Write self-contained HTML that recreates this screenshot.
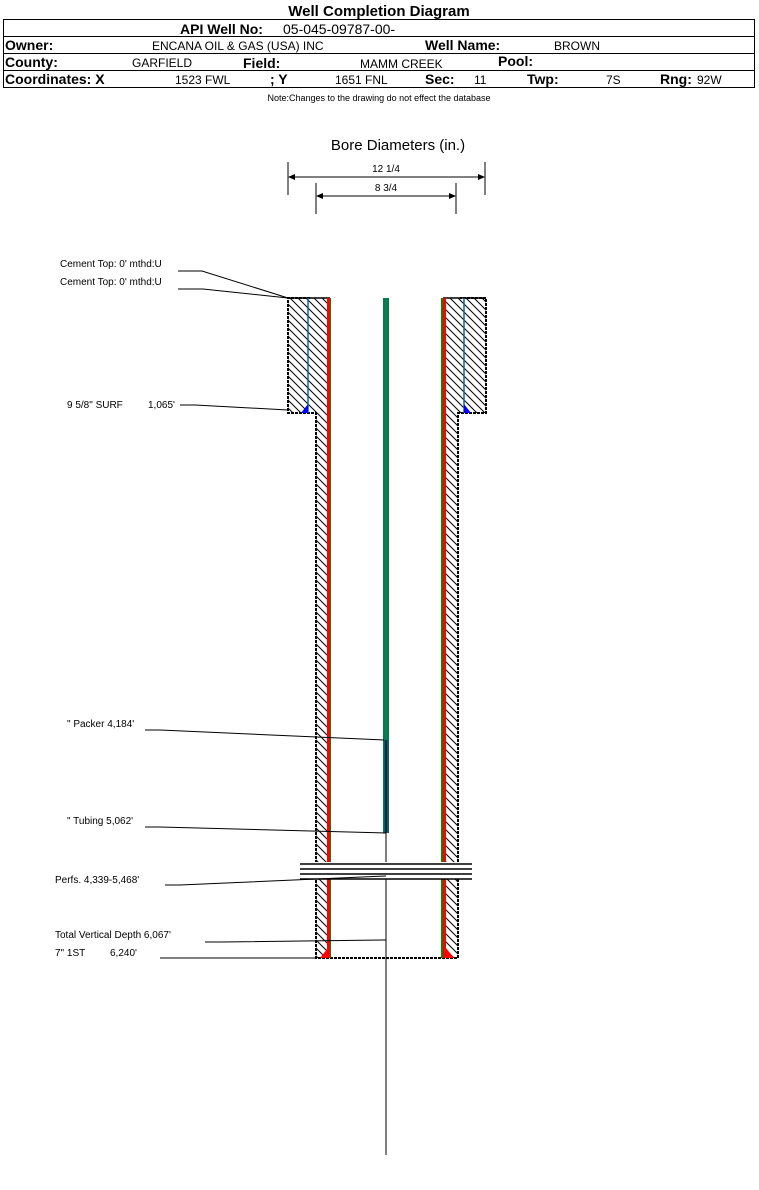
<!DOCTYPE html>
<html><head><meta charset="utf-8"><style>
body{margin:0;background:#fff;width:759px;height:1185px;overflow:hidden;font-family:"Liberation Sans",Arial,sans-serif}
</style></head><body>
<svg width="759" height="1185" viewBox="0 0 759 1185" xmlns="http://www.w3.org/2000/svg" font-family="Liberation Sans, Arial, sans-serif">
<defs>
<pattern id="h" width="8" height="8" patternUnits="userSpaceOnUse">
<path d="M-1,-1 L9,9 M-9,-1 L1,9 M7,-1 L17,9" stroke="#000" stroke-width="1"/>
</pattern>
</defs>
<text x="379" y="16" text-anchor="middle" font-weight="bold" font-size="15">Well Completion Diagram</text>
<rect x="3.5" y="19.5" width="751" height="68" fill="none" stroke="#000"/>
<line x1="3" y1="36.5" x2="755" y2="36.5" stroke="#000"/>
<line x1="3" y1="53.5" x2="755" y2="53.5" stroke="#000"/>
<line x1="3" y1="70.5" x2="755" y2="70.5" stroke="#000"/>
<g font-size="14" font-weight="bold">
<text x="180" y="34">API Well No:</text>
<text x="5" y="50">Owner:</text>
<text x="425" y="50">Well Name:</text>
<text x="5" y="67">County:</text>
<text x="243" y="68">Field:</text>
<text x="498" y="66">Pool:</text>
<text x="5" y="84">Coordinates: X</text>
<text x="270" y="84">; Y</text>
<text x="425" y="84">Sec:</text>
<text x="527" y="84">Twp:</text>
<text x="660" y="84">Rng:</text>
</g>
<text x="283" y="34" font-size="14">05-045-09787-00-</text>
<g font-size="12">
<text x="152" y="50">ENCANA OIL &amp; GAS (USA) INC</text>
<text x="554" y="50">BROWN</text>
<text x="132" y="67">GARFIELD</text>
<text x="360" y="68">MAMM CREEK</text>
<text x="175" y="84">1523 FWL</text>
<text x="335" y="84">1651 FNL</text>
<text x="474" y="84">11</text>
<text x="606" y="84">7S</text>
<text x="697" y="84">92W</text>
</g>
<text x="379" y="101" text-anchor="middle" font-size="9">Note:Changes to the drawing do not effect the database</text>
<text x="398" y="150" text-anchor="middle" font-size="15">Bore Diameters (in.)</text>
<g stroke="#000" stroke-width="1">
<line x1="288" y1="162" x2="288" y2="195"/><line x1="485" y1="162" x2="485" y2="195"/>
<line x1="292" y1="177" x2="481" y2="177"/>
<line x1="316" y1="183" x2="316" y2="214"/><line x1="456" y1="183" x2="456" y2="214"/>
<line x1="320" y1="196" x2="452" y2="196"/>
</g>
<path d="M288,177 l7,-3 v6z M485,177 l-7,-3 v6z M316,196 l7,-3 v6z M456,196 l-7,-3 v6z" fill="#000"/>
<text x="386" y="172" text-anchor="middle" font-size="10">12 1/4</text>
<text x="386" y="191" text-anchor="middle" font-size="10">8 3/4</text>
<path d="M288,298 H328 V958 H316 V413 H288Z" fill="url(#h)"/>
<path d="M443,298 H486 V413 H458 V958 H443Z" fill="url(#h)"/>
<rect x="328" y="298" width="115" height="660" fill="#fff"/>
<g fill="none" stroke="#000" stroke-width="2" stroke-dasharray="3,1">
<path d="M310,298 H288 V413 H316 V958 H458 V413 H486 V298 H460"/>
</g>
<line x1="288" y1="298" x2="330" y2="298" stroke="#000" stroke-width="1.5"/>
<line x1="443" y1="298" x2="486" y2="298" stroke="#000" stroke-width="1.5"/>
<line x1="308" y1="298" x2="308" y2="413" stroke="#1060a0" stroke-width="1.5"/>
<line x1="464" y1="298" x2="464" y2="413" stroke="#1060a0" stroke-width="1.5"/>
<path d="M301,413 L308,404 V413Z M464,404 L471,413 H464Z" fill="#00f"/>
<rect x="327" y="298" width="3" height="660" fill="#f00"/>
<rect x="330" y="298" width="1" height="660" fill="#080"/>
<rect x="443" y="298" width="3" height="660" fill="#f00"/>
<rect x="441" y="298" width="2" height="660" fill="#080"/>
<path d="M320,958 L328,948 V958Z M446,948 L454,958 H446Z" fill="#f00"/>
<rect x="383" y="298" width="6" height="535" fill="#0a7a40"/>
<rect x="385" y="298" width="2" height="535" fill="#0a7a6a"/>
<rect x="384" y="740" width="5" height="93" fill="#105a70"/>
<line x1="386" y1="740" x2="386" y2="1155" stroke="#000" stroke-width="1"/>
<rect x="300" y="862" width="172" height="17" fill="#fff"/>
<g stroke="#000" stroke-width="1.5">
<line x1="300" y1="864" x2="472" y2="864"/><line x1="300" y1="869" x2="472" y2="869"/>
<line x1="300" y1="874" x2="472" y2="874"/><line x1="300" y1="879" x2="472" y2="879"/>
</g>
<g fill="none" stroke="#000" stroke-width="1">
<path d="M178,271 H202 L288,298"/>
<path d="M178,289 H203 L288,298"/>
<path d="M180,405 H195 L288,410"/>
<path d="M145,730 H160 L384,740"/>
<path d="M145,827 H160 L386,833"/>
<path d="M165,885 H180 L386,876"/>
<path d="M205,942 H220 L386,940"/>
<path d="M160,958 H180 L316,958"/>
</g>
<g font-size="10">
<text x="60" y="267">Cement Top: 0' mthd:U</text>
<text x="60" y="285">Cement Top: 0' mthd:U</text>
<text x="67" y="408">9 5/8" SURF</text>
<text x="148" y="408">1,065'</text>
<text x="67" y="727">" Packer 4,184'</text>
<text x="67" y="824">" Tubing 5,062'</text>
<text x="55" y="883">Perfs. 4,339-5,468'</text>
<text x="55" y="938">Total Vertical Depth 6,067'</text>
<text x="55" y="956">7" 1ST</text>
<text x="110" y="956">6,240'</text>
</g>
</svg>
</body></html>
